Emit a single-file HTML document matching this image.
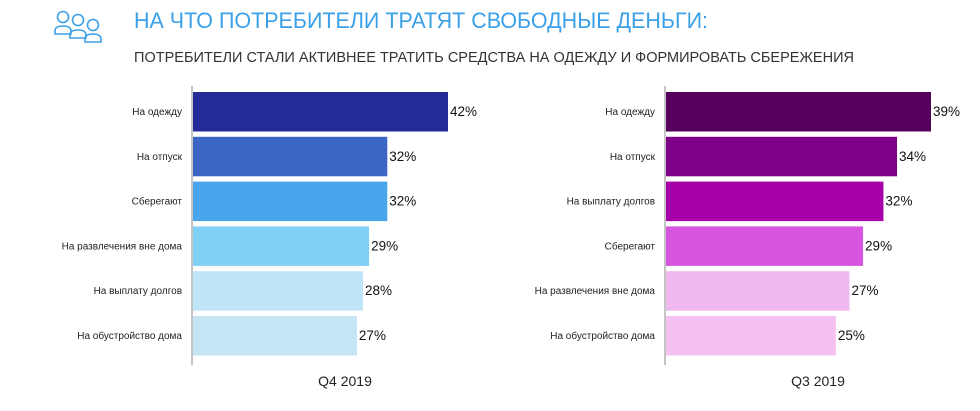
<!DOCTYPE html>
<html><head><meta charset="utf-8"><style>
body{margin:0;background:#fff;width:980px;height:406px;overflow:hidden;font-family:"Liberation Sans","DejaVu Sans",sans-serif}
</style></head><body>
<svg width="980" height="406" xmlns="http://www.w3.org/2000/svg">
<g fill="none" stroke="#3aa0e8" stroke-width="1.6">
<circle cx="63" cy="17" r="5.5"/><circle cx="78" cy="20" r="5.5"/><circle cx="93" cy="25" r="5.5"/>
<path d="M55 34 v-3 q0-5 8-5 q8 0 8 5 v3 z"/><path d="M70 38 v-3 q0-5 8-5 q8 0 8 5 v3 z"/><path d="M85 42 v-3 q0-5 8-5 q8 0 8 5 v3 z"/>
</g>
<text x="134" y="28" font-size="22" textLength="574" lengthAdjust="spacingAndGlyphs" fill="#3aa0e8">НА ЧТО ПОТРЕБИТЕЛИ ТРАТЯТ СВОБОДНЫЕ ДЕНЬГИ:</text>
<text x="134" y="62" font-size="14.5" textLength="720" lengthAdjust="spacingAndGlyphs" fill="#333">ПОТРЕБИТЕЛИ СТАЛИ АКТИВНЕЕ ТРАТИТЬ СРЕДСТВА НА ОДЕЖДУ И ФОРМИРОВАТЬ СБЕРЕЖЕНИЯ</text>
<g id="p1"></g><g id="p2"></g>
</svg>
<script>
const leftCategories=["На одежду","На отпуск","Сберегают","На развлечения вне дома","На выплату долгов","На обустройство дома"];
const leftValues=[42,32,32,29,28,27];
const leftColors=["#232b99","#3b66c4","#4aa6ec","#80cff5","#c0e5f7","#c5e5f5"];
const rightCategories=["На одежду","На отпуск","На выплату долгов","Сберегают","На развлечения вне дома","На обустройство дома"];
const rightValues=[39,34,32,29,27,25];
const rightColors=["#54005c","#7f0088","#a800a8","#d655e0","#f0b8f0","#f5c0f2"];
const NS="http://www.w3.org/2000/svg";
function panel(g,cats,vals,cols,axisX,maxW,title,titleX,prefix){
  const maxV=Math.max(...vals);
  const x=v=>axisX+1+v/maxV*maxW;
  const y=i=>92+i*44.8;
  const ax=document.createElementNS(NS,'line');
  ax.setAttribute('x1',axisX);ax.setAttribute('x2',axisX);ax.setAttribute('y1',86);ax.setAttribute('y2',365);
  ax.setAttribute('stroke','#888');
  
  
  g.appendChild(ax);
  cats.forEach((c,i)=>{
    const r=document.createElementNS(NS,'rect');
    r.setAttribute('x',axisX+1);r.setAttribute('y',y(i));r.setAttribute('width',x(vals[i])-axisX-1);r.setAttribute('height',39.5);r.setAttribute('fill',cols[i]);
    
    
    g.appendChild(r);
    const l=document.createElementNS(NS,'text');
    l.setAttribute('x',axisX-10);l.setAttribute('y',y(i)+23);l.setAttribute('text-anchor','end');l.setAttribute('font-size','10');l.setAttribute('fill','#222');
    l.textContent=c;
    
    
    g.appendChild(l);
    const v=document.createElementNS(NS,'text');
    v.setAttribute('x',x(vals[i])+2);v.setAttribute('y',y(i)+24);v.setAttribute('font-size','13.5');v.setAttribute('fill','#111');
    v.textContent=vals[i]+'%';
    
    
    g.appendChild(v);
  });
  const t=document.createElementNS(NS,'text');
  t.setAttribute('x',titleX);t.setAttribute('y',386);t.setAttribute('text-anchor','middle');t.setAttribute('font-size','14');t.setAttribute('fill','#222');
  t.textContent=title;
  
  
  g.appendChild(t);
}
panel(document.getElementById('p1'),leftCategories,leftValues,leftColors,192,255,'Q4 2019',345,'q4');
panel(document.getElementById('p2'),rightCategories,rightValues,rightColors,665,265,'Q3 2019',818,'q3');
</script>
</body></html>
